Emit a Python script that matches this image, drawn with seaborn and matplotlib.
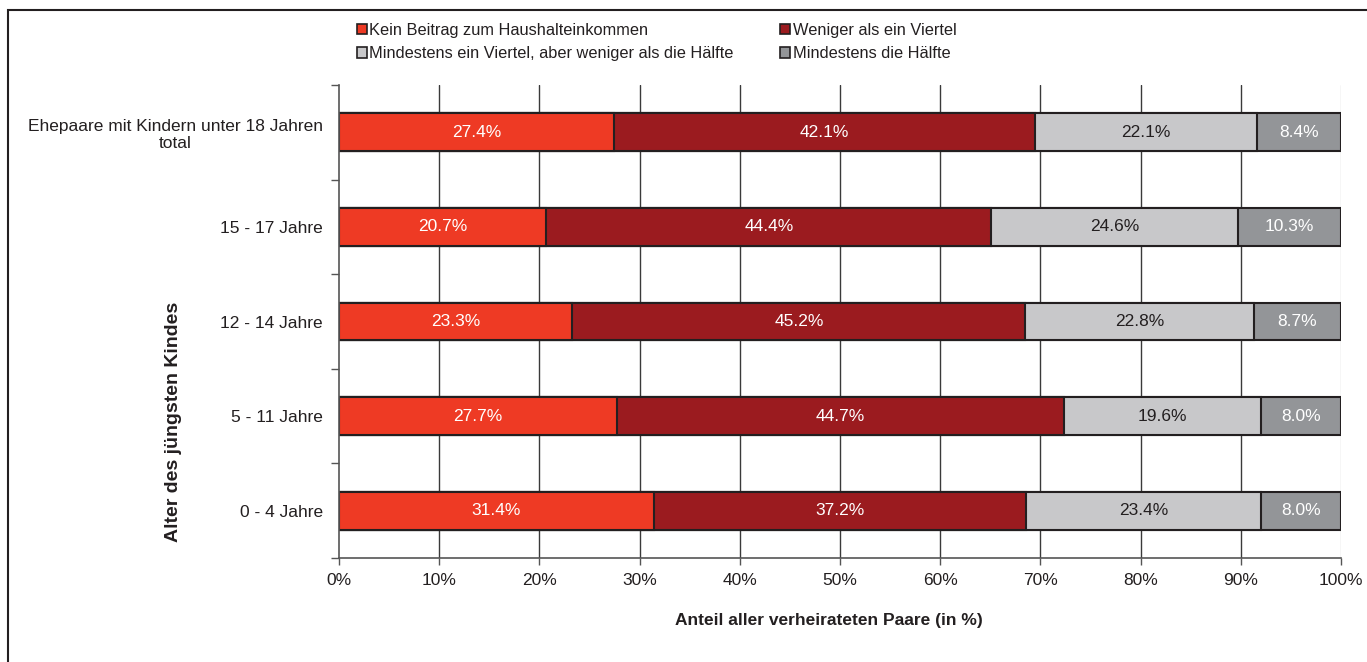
import matplotlib
matplotlib.use("Agg")
import matplotlib.pyplot as plt
import matplotlib.patches as mpatches
from matplotlib.ticker import FixedLocator, PercentFormatter
import seaborn as sns
import pandas as pd
import numpy as np

categories = ["Ehepaare mit Kindern unter 18 Jahren\ntotal", "15 - 17 Jahre",
              "12 - 14 Jahre", "5 - 11 Jahre", "0 - 4 Jahre"]
series_names = ["Kein Beitrag zum Haushalteinkommen", "Weniger als ein Viertel",
                "Mindestens ein Viertel, aber weniger als die Hälfte", "Mindestens die Hälfte"]
kein = [27.4, 20.7, 23.3, 27.7, 31.4]
weniger = [42.1, 44.4, 45.2, 44.7, 37.2]
viertel = [22.1, 24.6, 22.8, 19.6, 23.4]
haelfte = [8.4, 10.3, 8.7, 8.0, 8.0]
colors = ["#EE3A24", "#9B1B1F", "#C8C8CA", "#939598"]
label_colors = ["white", "white", "#231F20", "white"]

sns.set_theme(style="white")
plt.rcParams["font.family"] = ["Liberation Sans", "DejaVu Sans"]
txt = "#231F20"
fs = 12.5

fig = plt.figure(figsize=(13.67, 6.62), dpi=100)
ax = fig.add_axes([339/1367, 1-558/662, 1002/1367, 473/662])

vals = np.array([kein, weniger, viertel, haelfte])
cum = np.cumsum(vals, axis=0)

# grid first
for x in range(10, 100, 10):
    ax.axvline(x, color="#3a3a3a", lw=1.0, zorder=0)
ax.axvline(100, color="#d4d4d4", lw=1.0, zorder=0)

for i in range(3, -1, -1):
    df = pd.DataFrame({"cat": categories, "val": cum[i]})
    sns.barplot(data=df, x="val", y="cat", orient="h", color=colors[i],
                width=0.4, edgecolor="#231F20", linewidth=1.5, ax=ax,
                saturation=1, zorder=2)

for i in range(4):
    for j in range(len(categories)):
        center = cum[i][j] - vals[i][j] / 2
        ax.text(center, j, f"{vals[i][j]:.1f}%", ha="center", va="center",
                fontsize=fs, color=label_colors[i], zorder=5)

ax.set_xlim(0, 100)
ax.set_ylim(4.5, -0.5)
ax.xaxis.set_major_locator(FixedLocator(np.arange(0, 101, 10)))
ax.xaxis.set_major_formatter(PercentFormatter(decimals=0))
ax.yaxis.set_minor_locator(FixedLocator(np.arange(-0.5, 5, 1)))
ax.tick_params(axis="y", which="major", length=0, pad=11.5, labelsize=fs, labelcolor=txt)
ax.tick_params(axis="y", which="minor", length=6, width=1, color="#555555", direction="out", left=True)
ax.tick_params(axis="x", which="major", length=5, width=1, color="#555555", direction="out",
               bottom=True, labelsize=fs, labelcolor=txt, pad=6)
for lab in ax.get_yticklabels():
    lab.set_multialignment("center")

for s in ["top", "right"]:
    ax.spines[s].set_visible(False)
for s in ["left", "bottom"]:
    ax.spines[s].set_color("#555555")
    ax.spines[s].set_linewidth(1.2)

ax.set_xlabel("Anteil aller verheirateten Paare (in %)", fontsize=fs, fontweight="bold", color=txt)
ax.set_ylabel("Alter des jüngsten Kindes", fontsize=14, fontweight="bold", color=txt)
ax.xaxis.set_label_coords(0.4885, -0.116)
ax.yaxis.set_label_coords(-0.157, 0.2875)

handles = [mpatches.Patch(facecolor=c, edgecolor="#231F20", linewidth=1.2) for c in colors]
order = [0, 2, 1, 3]
fig.legend([handles[k] for k in order], [series_names[k] for k in order], ncol=2,
           loc="upper left", bbox_to_anchor=(357/1367, 1-23/662), frameon=False, fontsize=11.8,
           handlelength=0.6, handleheight=0.6, handletextpad=0.15, columnspacing=2.85,
           labelspacing=0.5, borderaxespad=0, borderpad=0, labelcolor=txt)

# figure frame
fig.patches.append(mpatches.Rectangle((8/1367, -0.05), 1.1, 1 - 10/662 + 0.05,
                                      transform=fig.transFigure, fill=False,
                                      edgecolor="#231F20", linewidth=1.5))

fig.savefig("out.png", dpi=100)
